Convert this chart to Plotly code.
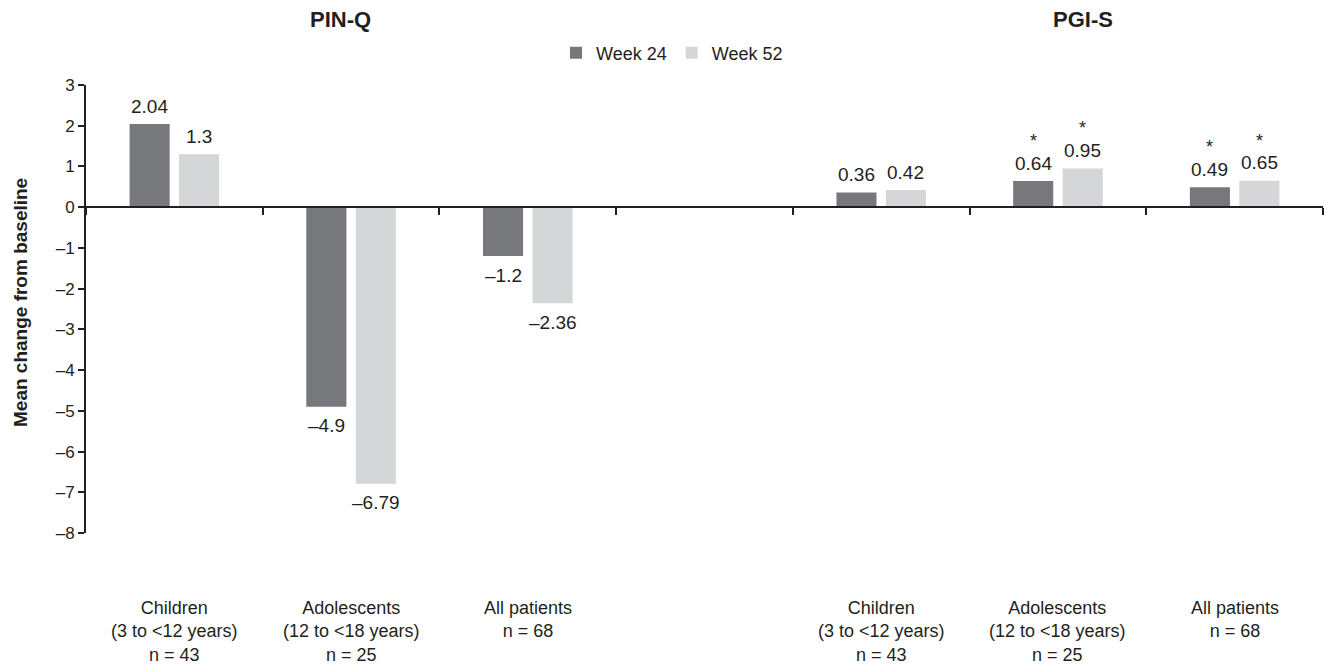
import plotly.graph_objects as go

# ---- data ----
categories = ["PIN-Q Children", "PIN-Q Adolescents", "PIN-Q All patients", "gap",
              "PGI-S Children", "PGI-S Adolescents", "PGI-S All patients"]
category_labels = ["Children<br>(3 to <12 years)<br>n = 43",
                   "Adolescents<br>(12 to <18 years)<br>n = 25",
                   "All patients<br>n = 68",
                   "",
                   "Children<br>(3 to <12 years)<br>n = 43",
                   "Adolescents<br>(12 to <18 years)<br>n = 25",
                   "All patients<br>n = 68"]
week24 = [2.04, -4.9, -1.2, None, 0.36, 0.64, 0.49]
week52 = [1.3, -6.79, -2.36, None, 0.42, 0.95, 0.65]
week24_sig = [False, False, False, False, False, True, True]
week52_sig = [False, False, False, False, False, True, True]
series_names = ["Week 24", "Week 52"]
panel_titles = ["PIN-Q", "PGI-S"]
ytick_vals = [3, 2, 1, 0, -1, -2, -3, -4, -5, -6, -7, -8]
ytick_text = ["3", "2", "1", "0", "–1", "–2", "–3", "–4", "–5", "–6", "–7", "–8"]
y_title = "Mean change from baseline"

# ---- style ----
DARK = "#77787b"
LIGHT = "#d5d6d8"
INK = "#231f20"
FONT = "Liberation Sans, Arial, sans-serif"
BARGAP = 0.44
BARGROUPGAP = 0.19
OFF = (1 - BARGAP) / 4

W, H = 1326, 664
ML, MR, MT, MB = 86, 3, 85, 131
ymin, ymax = -8, 3


def fmt(v):
    s = ("%g" % v)
    return s.replace("-", "–")


fig = go.Figure()
fig.add_trace(go.Bar(x=categories, y=week24, name=series_names[0],
                     marker=dict(color=DARK, line=dict(width=0))))
fig.add_trace(go.Bar(x=categories, y=week52, name=series_names[1],
                     marker=dict(color=LIGHT, line=dict(width=0))))

annotations = []
for vals, sigs, sign in ((week24, week24_sig, -1), (week52, week52_sig, 1)):
    for i, v in enumerate(vals):
        if v is None:
            continue
        xpos = i + sign * OFF
        up = v >= 0
        annotations.append(dict(x=xpos, y=v, xref="x", yref="y", text=fmt(v),
                                showarrow=False, yanchor="middle",
                                yshift=18 if up else -19,
                                font=dict(size=19, color=INK, family=FONT)))
        if sigs[i]:
            annotations.append(dict(x=xpos, y=v, xref="x", yref="y", text="*",
                                    showarrow=False, yanchor="middle",
                                    yshift=40,
                                    font=dict(size=18, color=INK, family=FONT)))

# category labels
pw = W - ML - MR
ph = H - MT - MB
for i, lab in enumerate(category_labels):
    if not lab:
        continue
    annotations.append(dict(x=i, y=-(596 - (H - MB)) / ph, xref="x", yref="paper",
                            text=lab, showarrow=False, yanchor="top", align="center",
                            font=dict(size=18, color=INK, family=FONT)))

# panel titles
for title, px in zip(panel_titles, (340, 1083)):
    annotations.append(dict(x=(px - ML) / pw, y=1 + (MT - 20) / ph, xref="paper", yref="paper",
                            text="<b>%s</b>" % title, showarrow=False,
                            xanchor="center", yanchor="middle",
                            font=dict(size=22, color=INK, family=FONT)))

# y-axis title
annotations.append(dict(x=(20 - ML) / pw, y=(H - MB - 303) / ph, xref="paper", yref="paper",
                        text="<b>%s</b>" % y_title, showarrow=False, textangle=-90,
                        xanchor="center", yanchor="middle",
                        font=dict(size=19, color=INK, family=FONT)))

fig.update_layout(
    width=W, height=H,
    margin=dict(l=ML, r=MR, t=MT, b=MB, pad=0),
    paper_bgcolor="white", plot_bgcolor="white",
    barmode="group", bargap=BARGAP, bargroupgap=BARGROUPGAP,
    font=dict(family=FONT, color=INK, size=18),
    showlegend=True,
    legend=dict(orientation="h", x=(672 - ML) / pw, y=1 + (MT - 53) / ph,
                xanchor="center", yanchor="middle",
                font=dict(size=18, color=INK, family=FONT),
                itemwidth=30, tracegroupgap=0, bgcolor="rgba(0,0,0,0)"),
    annotations=annotations,
    xaxis=dict(type="category", categoryorder="array", categoryarray=categories,
               range=[-0.5, len(categories) - 0.5],
               anchor="free", position=(0 - ymin) / (ymax - ymin),
               showline=True, linecolor=INK, linewidth=2,
               ticks="outside", tickson="boundaries", ticklen=7, tickwidth=2, tickcolor=INK,
               showticklabels=False, showgrid=False, zeroline=False),
    yaxis=dict(range=[ymin, ymax], tickvals=ytick_vals, ticktext=ytick_text,
               showline=True, linecolor=INK, linewidth=2,
               ticks="outside", ticklen=6, tickwidth=2, tickcolor=INK,
               tickfont=dict(size=17, color=INK, family=FONT),
               showgrid=False, zeroline=False),
)

fig.write_html("out.html", config={"displayModeBar": False},
               post_script="document.body.style.margin='0';document.body.style.overflow='hidden';")
